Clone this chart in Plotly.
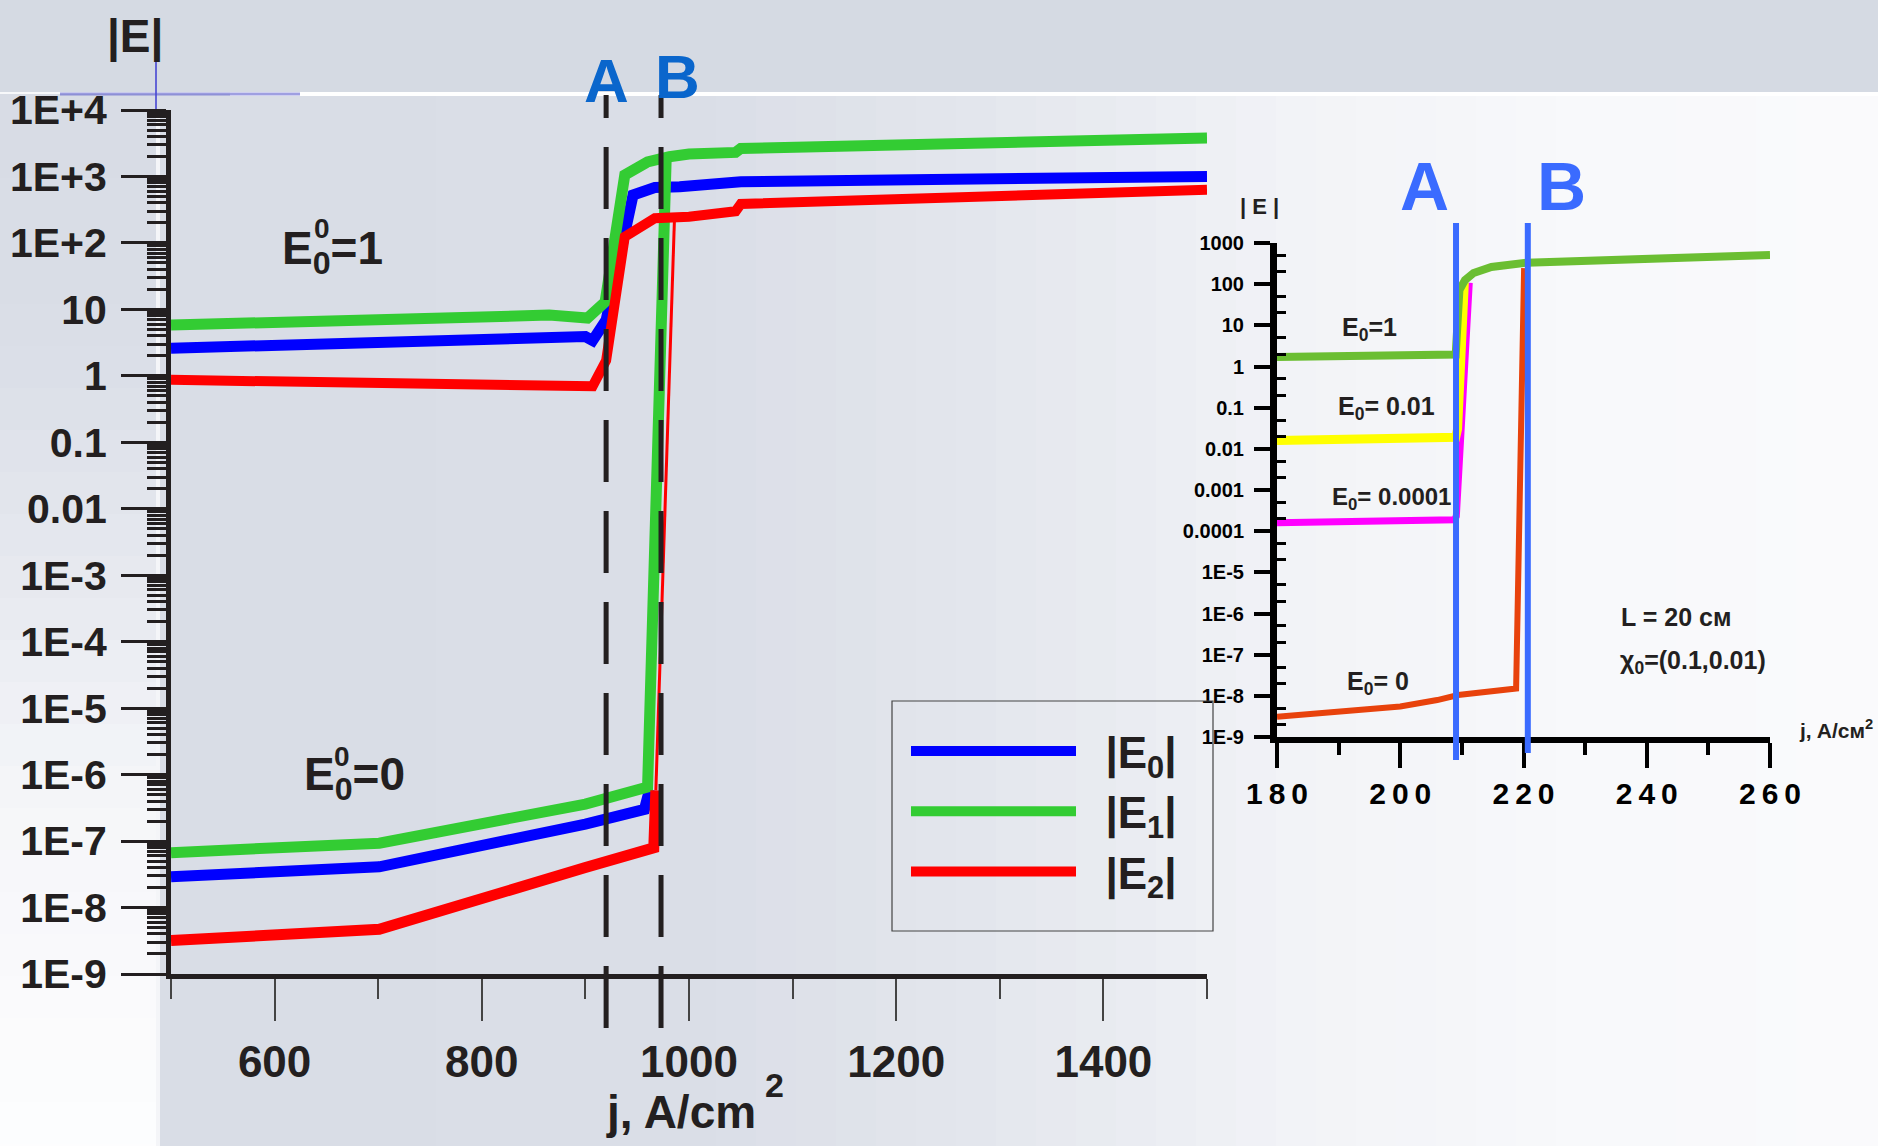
import plotly.graph_objects as go

W, H = 1878, 1146
FONT = "Liberation Sans, Arial, sans-serif"
INK = "#231F20"

# ---------------- main chart data: j (A/cm^2) and |E| ----------------
# E0^0 = 1
j_E0_one = [500, 700, 860, 900, 907, 920, 946, 967, 991, 1045, 1050, 1500]
v_E0_one = [2.6, 3.2, 3.7, 3.9, 3.4, 6.9, 525, 680, 700, 780, 835, 1000]
j_E1_one = [500, 700, 865, 902, 919, 938, 960, 981, 1000, 1045, 1050, 1500]
v_E1_one = [5.8, 7.0, 8.2, 7.4, 12.9, 1050, 1650, 1980, 2180, 2300, 2640, 3800]
j_E2_one = [500, 700, 827, 900, 907, 920, 938, 967, 1000, 1045, 1050, 1500]
v_E2_one = [0.87, 0.78, 0.69, 0.68, 0.70, 1.7, 124, 235, 247, 300, 385, 630]
# E0^0 = 0
j_E0_zero = [500, 701, 900, 957, 962]
v_E0_zero = [2.9e-8, 4.1e-8, 1.8e-7, 3.0e-7, 6.0e-7]
j_E1_zero = [500, 701, 900, 960, 978]
v_E1_zero = [6.7e-8, 9.3e-8, 3.6e-7, 6.5e-7, 1900]
j_E2_zero = [500, 701, 900, 957, 966, 968]
v_E2_zero = [3.2e-9, 4.7e-9, 4.0e-8, 6.8e-8, 7.9e-8, 5.8e-7]
j_E2_zero_jump = [968, 986]
v_E2_zero_jump = [5.8e-7, 240]
j_A, j_B = 920, 973

main_x_ticks = [600, 800, 1000, 1200, 1400]
main_x_minor = [500, 700, 900, 1100, 1300, 1500]
main_y_ticks = [1e-9, 1e-8, 1e-7, 1e-6, 1e-5, 1e-4, 1e-3, 1e-2, 1e-1, 1, 10, 1e2, 1e3, 1e4]
main_y_text = ["1E-9", "1E-8", "1E-7", "1E-6", "1E-5", "1E-4", "1E-3", "0.01", "0.1", "1", "10", "1E+2", "1E+3", "1E+4"]

# ---------------- inset data ----------------
ij_one = [180, 200, 209.0, 209.6, 210.5, 211.9, 214.8, 220.5, 260]
iv_one = [1.7, 1.85, 1.95, 72, 126, 187, 262, 333, 513]
ij_001 = [180, 200, 209.0, 209.3, 210.4]
iv_001 = [0.016, 0.018, 0.019, 0.03, 110]
ij_00001 = [180, 200, 208.8, 209.1, 211.2]
iv_00001 = [1.6e-4, 1.75e-4, 1.9e-4, 2.3e-4, 108]
ij_zero = [180, 200, 206, 209.4, 218.8, 220.1]
iv_zero = [3.1e-9, 5.5e-9, 7.9e-9, 1.05e-8, 1.5e-8, 245]
ij_A, ij_B = 209.05, 220.7

in_x_ticks = [180, 200, 220, 240, 260]
in_x_text = ["1\u20098\u20090", "2\u20090\u20090", "2\u20092\u20090", "2\u20094\u20090", "2\u20096\u20090"]
in_x_minor = [190, 210, 230, 250]
in_y_ticks = [1e-9, 1e-8, 1e-7, 1e-6, 1e-5, 1e-4, 1e-3, 1e-2, 1e-1, 1, 10, 100, 1000]
in_y_text = ["1E-9", "1E-8", "1E-7", "1E-6", "1E-5", "0.0001", "0.001", "0.01", "0.1", "1", "10", "100", "1000"]


def px(x):
    return x / W


def py(y):
    return 1 - y / H


fig = go.Figure()

BLUE, GREEN, RED = "#0000FF", "#33CC33", "#FF0000"
NB = "\u00a0"

fig.add_trace(go.Scatter(x=j_E0_one, y=v_E0_one, mode="lines", line=dict(color=BLUE, width=11),
                         name=NB * 2 + "|E<sub>0</sub>|", legendrank=1))
fig.add_trace(go.Scatter(x=j_E0_zero, y=v_E0_zero, mode="lines", line=dict(color=BLUE, width=11),
                         showlegend=False))
fig.add_trace(go.Scatter(x=j_E1_one, y=v_E1_one, mode="lines", line=dict(color=GREEN, width=11),
                         name=NB * 2 + "|E<sub>1</sub>|", legendrank=2))
fig.add_trace(go.Scatter(x=j_E1_zero, y=v_E1_zero, mode="lines", line=dict(color=GREEN, width=11),
                         showlegend=False))
fig.add_trace(go.Scatter(x=j_E2_one, y=v_E2_one, mode="lines", line=dict(color=RED, width=10),
                         name=NB * 2 + "|E<sub>2</sub>|", legendrank=3))
fig.add_trace(go.Scatter(x=j_E2_zero, y=v_E2_zero, mode="lines", line=dict(color=RED, width=11),
                         showlegend=False))
fig.add_trace(go.Scatter(x=j_E2_zero_jump, y=v_E2_zero_jump, mode="lines", line=dict(color=RED, width=3),
                         showlegend=False))

# inset traces
fig.add_trace(go.Scatter(x=ij_zero, y=iv_zero, mode="lines", line=dict(color="#E8420C", width=6),
                         xaxis="x2", yaxis="y2", showlegend=False))
fig.add_trace(go.Scatter(x=ij_00001, y=iv_00001, mode="lines", line=dict(color="#FF00FF", width=7),
                         xaxis="x2", yaxis="y2", showlegend=False))
fig.add_trace(go.Scatter(x=ij_001, y=iv_001, mode="lines", line=dict(color="#FFFF00", width=9),
                         xaxis="x2", yaxis="y2", showlegend=False))
fig.add_trace(go.Scatter(x=ij_one, y=iv_one, mode="lines", line=dict(color="#6BBE32", width=8),
                         xaxis="x2", yaxis="y2", showlegend=False))

# ---------------- background (slide) ----------------
shapes = []


def lerp_color(stops, v):
    for (a, ca), (b, cb) in zip(stops[:-1], stops[1:]):
        if a <= v <= b:
            t = (v - a) / (b - a) if b > a else 0
            c = [round(ca[i] + (cb[i] - ca[i]) * t) for i in range(3)]
            return "rgb(%d,%d,%d)" % tuple(c)
    c = stops[-1][1] if v > stops[-1][0] else stops[0][1]
    return "rgb(%d,%d,%d)" % tuple(c)


main_stops = [(156, (217, 221, 230)), (700, (218, 222, 231)), (1000, (228, 231, 237)),
              (1300, (242, 243, 247)), (1600, (248, 249, 251)), (1878, (250, 250, 252))]
step = 40
x = 156
while x < W:
    x2 = min(x + step, W)
    shapes.append(dict(type="rect", xref="paper", yref="paper", x0=px(x), x1=px(x2) + 0.0005,
                       y0=0, y1=py(94), fillcolor=lerp_color(main_stops, (x + x2) / 2),
                       line=dict(width=0), layer="below"))
    x = x2
left_stops = [(94, (216, 220, 229)), (350, (218, 222, 231)), (600, (232, 234, 240)),
              (800, (245, 246, 249)), (1146, (253, 253, 254))]
y = 94
while y < H:
    y2 = min(y + 42, H)
    shapes.append(dict(type="rect", xref="paper", yref="paper", x0=0, x1=px(156),
                       y0=py(y2) - 0.0005, y1=py(y), fillcolor=lerp_color(left_stops, (y + y2) / 2),
                       line=dict(width=0), layer="below"))
    y = y2
shapes.append(dict(type="rect", xref="paper", yref="paper", x0=0, x1=1, y0=py(92), y1=1,
                   fillcolor="#D5DAE3", line=dict(width=0), layer="below"))
shapes.append(dict(type="line", xref="paper", yref="paper", x0=px(230), x1=1, y0=py(94), y1=py(94),
                   line=dict(color="white", width=4), layer="below"))
shapes.append(dict(type="line", xref="paper", yref="paper", x0=px(60), x1=px(300), y0=py(94), y1=py(94),
                   line=dict(color="rgba(80,80,200,0.55)", width=3), layer="below"))
shapes.append(dict(type="line", xref="paper", yref="paper", x0=px(156), x1=px(156), y0=py(110), y1=py(55),
                   line=dict(color="rgba(70,70,210,0.8)", width=2), layer="below"))
shapes.append(dict(type="line", xref="paper", yref="paper", x0=px(158), x1=px(158), y0=py(1146), y1=py(110),
                   line=dict(color="rgba(255,255,255,0.7)", width=4), layer="below"))

# legend frame
shapes.append(dict(type="rect", xref="paper", yref="paper", x0=px(892), x1=px(1213), y0=py(931), y1=py(701),
                   line=dict(color="#444", width=1.2), fillcolor="rgba(0,0,0,0)"))

# dashed A/B lines (main)
for jj in (j_A, j_B):
    shapes.append(dict(type="line", xref="x", yref="paper", x0=jj, x1=jj, y0=py(1028), y1=py(95),
                       line=dict(color=INK, width=5, dash="62px,29px")))
# inset A/B lines
shapes.append(dict(type="line", xref="x2", yref="paper", x0=ij_A, x1=ij_A, y0=py(760), y1=py(223),
                   line=dict(color="#3A6BFF", width=6)))
shapes.append(dict(type="line", xref="x2", yref="paper", x0=ij_B, x1=ij_B, y0=py(753), y1=py(223),
                   line=dict(color="#3A6BFF", width=6)))

# ---------------- annotations ----------------
annotations = []


def ann(x, y, text, size, color=INK, xanchor="center", yanchor="middle", weight="bold", family=FONT):
    annotations.append(dict(x=px(x), y=py(y), xref="paper", yref="paper", text=text, showarrow=False,
                            xanchor=xanchor, yanchor=yanchor,
                            font=dict(family=family, size=size, color=color, weight=weight)))


# main
ann(135, 36, "|E|", 46)
ann(681, 1112, "j, A/cm", 46)
ann(774, 1085, "2", 34)
ann(332, 251, "E<sub>0</sub>=1", 46)
ann(322, 229, "0", 28)
ann(354, 777, "E<sub>0</sub>=0", 46)
ann(342, 756, "0", 28)
annotations.append(dict(x=j_A, y=py(80), xref="x", yref="paper", text="A", showarrow=False,
                        xanchor="center", yanchor="middle",
                        font=dict(family=FONT, size=62, color="#0A66CC", weight="bold")))
annotations.append(dict(x=j_B, y=py(76), xref="x", yref="paper", text="B", showarrow=False, xshift=16,
                        xanchor="center", yanchor="middle",
                        font=dict(family=FONT, size=62, color="#0A66CC", weight="bold")))
# inset
ann(1259, 206, "| E |", 22)
ann(1340, 329, "E<sub>0</sub>=1", 25, xanchor="left")
ann(1336, 408, "E<sub>0</sub>= 0.01", 25, xanchor="left")
ann(1330, 499, "E<sub>0</sub>= 0.0001", 24, xanchor="left")
ann(1345, 683, "E<sub>0</sub>= 0", 25, xanchor="left")
ann(1676, 617, "L = 20 см", 25)
ann(1618, 662, "χ<sub>0</sub>=(0.1,0.01)", 25, xanchor="left")
ann(1797, 729, "j, A/см<sup>2</sup>", 21, xanchor="left")
annotations.append(dict(x=ij_A, y=py(186), xref="x2", yref="paper", text="A", showarrow=False, xshift=-32,
                        xanchor="center", yanchor="middle",
                        font=dict(family=FONT, size=68, color="#3A6BFF", weight="bold")))
annotations.append(dict(x=ij_B, y=py(186), xref="x2", yref="paper", text="B", showarrow=False, xshift=34,
                        xanchor="center", yanchor="middle",
                        font=dict(family=FONT, size=68, color="#3A6BFF", weight="bold")))

minor_main_y = [m * 10.0 ** k for k in range(-9, 4) for m in range(2, 10)]
minor_in_y = [m * 10.0 ** k for k in range(-9, 3) for m in (2, 5)]

fig.update_layout(
    width=W, height=H, autosize=False,
    margin=dict(l=0, r=0, t=0, b=0, pad=0, autoexpand=False),
    paper_bgcolor="#F7F8FA", plot_bgcolor="rgba(0,0,0,0)",
    font=dict(family=FONT, color=INK),
    shapes=shapes, annotations=annotations,
    legend=dict(x=px(906), y=py(716), xanchor="left", yanchor="top",
                bgcolor="rgba(0,0,0,0)", borderwidth=0,
                font=dict(family=FONT, size=44, color=INK, weight="bold"),
                itemwidth=165, traceorder="normal"),
    xaxis=dict(domain=[px(171), px(1207)], range=[500, 1500], anchor="y", automargin=False,
               showline=True, linewidth=5, linecolor=INK, showgrid=False, zeroline=False,
               ticks="outside", ticklen=42, tickwidth=1.5, tickcolor="#444",
               tickvals=main_x_ticks, ticktext=[str(v) for v in main_x_ticks],
               minor=dict(tickvals=main_x_minor, ticks="outside", ticklen=20, tickwidth=1.5, tickcolor="#444"),
               tickfont=dict(family=FONT, size=44, color=INK, weight="bold"), ticklabelstandoff=3),
    yaxis=dict(type="log", domain=[py(974), py(110)], range=[-9, 4], anchor="x", automargin=False,
               showline=True, linewidth=5, linecolor=INK, showgrid=False, zeroline=False,
               ticks="outside", ticklen=45, tickwidth=3, tickcolor=INK,
               tickvals=main_y_ticks, ticktext=main_y_text,
               minor=dict(tickvals=minor_main_y, ticks="outside", ticklen=19, tickwidth=3, tickcolor=INK),
               tickfont=dict(family=FONT, size=41, color=INK, weight="bold"), ticklabelstandoff=6),
    xaxis2=dict(domain=[px(1277), px(1770)], range=[180, 260], anchor="y2", automargin=False,
                showline=True, linewidth=6, linecolor="black", showgrid=False, zeroline=False,
                ticks="outside", ticklen=25, tickwidth=4, tickcolor="black",
                tickvals=in_x_ticks, ticktext=in_x_text,
                minor=dict(tickvals=in_x_minor, ticks="outside", ticklen=12, tickwidth=4, tickcolor="black"),
                tickfont=dict(family=FONT, size=30, color="black", weight="bold"), ticklabelstandoff=0),
    yaxis2=dict(type="log", domain=[py(737), py(243)], range=[-9, 3], anchor="x2", automargin=False,
                showline=True, linewidth=7, linecolor="black", showgrid=False, zeroline=False,
                ticks="outside", ticklen=16, tickwidth=4, tickcolor="black",
                tickvals=in_y_ticks, ticktext=in_y_text,
                minor=dict(tickvals=minor_in_y, ticks="inside", ticklen=9, tickwidth=3, tickcolor="black"),
                tickfont=dict(family=FONT, size=20, color="black", weight="bold"), ticklabelstandoff=6),
)

fig.write_html("out.html", config={"displayModeBar": False},
               post_script="document.body.style.margin='0';document.body.style.overflow='hidden';")
